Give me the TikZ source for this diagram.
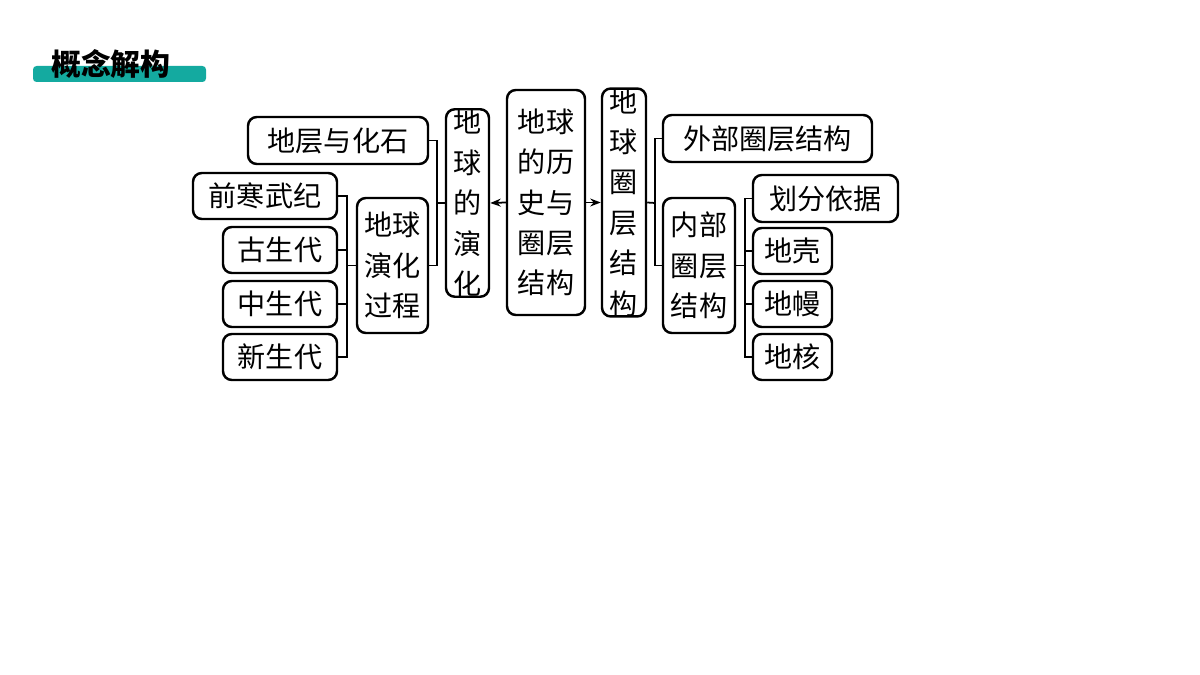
\documentclass[tikz,border=0pt]{standalone}
\usepackage{fontspec}
\setmainfont{Noto Sans CJK SC}
\usetikzlibrary{calc}
\usetikzlibrary{positioning}
\usetikzlibrary{arrows.meta}
\definecolor{teal1}{RGB}{20,170,160}
\tikzset{box/.style={draw=black,line width=1.4pt,rounded corners=5pt,inner sep=0pt,align=center,
  font=\fontsize{16}{23}\selectfont}}
\tikzset{link/.style={line width=1pt}}

\begin{document}
\begin{tikzpicture}[x=0.02cm,y=-0.02cm]
		\useasboundingbox (0,0) rectangle (1200,675);
		\fill[teal1,rounded corners=2pt] (33,66) rectangle (206,82);
		\node[font=\fontsize{17}{20}\selectfont\bfseries,anchor=west] (title) at (45,64) {概念解构};
		% centre
		\node[box,minimum width=78*0.02cm,minimum height=225*0.02cm] (root) at (546,202.5) {地球\\的历\\史与\\圈层\\结构};
		\node[box,minimum width=43*0.02cm,minimum height=174*0.02cm] (evo) at (467.5,203) {地\\球\\的\\演\\化};
		\node[box,minimum width=44*0.02cm,minimum height=211*0.02cm] (sphere) at (624,202.5) {地\\球\\圈\\层\\结\\构};
		% left side
		\node[box,minimum width=180*0.02cm,minimum height=47*0.02cm] (ceng) at (338,140.5) {地层与化石};
		\node[box,minimum width=71*0.02cm,minimum height=135*0.02cm] (proc) at (392.5,265.5) {地球\\演化\\过程};
		\node[box,minimum width=144*0.02cm,minimum height=46*0.02cm] (qian) at (265,196) {前寒武纪};
		\node[box,minimum width=114*0.02cm,minimum height=46*0.02cm] (gu) at (280,250) {古生代};
		\node[box,minimum width=114*0.02cm,minimum height=46*0.02cm] (zhong) at (280,304) {中生代};
		\node[box,minimum width=114*0.02cm,minimum height=46*0.02cm] (xin) at (280,357) {新生代};
		% right side
		\node[box,minimum width=209*0.02cm,minimum height=47*0.02cm] (outer) at (767.5,138.5) {外部圈层结构};
		\node[box,minimum width=72*0.02cm,minimum height=135*0.02cm] (inner) at (699,265.5) {内部\\圈层\\结构};
		\node[box,minimum width=145*0.02cm,minimum height=47*0.02cm] (basis) at (825.5,198.5) {划分依据};
		\node[box,minimum width=79*0.02cm,minimum height=46*0.02cm] (crust) at (792.5,251) {地壳};
		\node[box,minimum width=79*0.02cm,minimum height=46*0.02cm] (mantle) at (792.5,304) {地幔};
		\node[box,minimum width=79*0.02cm,minimum height=46*0.02cm] (core) at (792.5,357) {地核};
		% brackets
		\coordinate (jL) at (437,203);
		\coordinate (jA) at (347,265.5);
		\coordinate (jR) at (655,203);
		\coordinate (jB) at (745,265.5);
		\draw[link] (ceng.east) -| (jL) |- (proc.east);
		\draw[link] (jL) -- (evo.west);
		\draw[link] (qian.east) -| (jA) |- (xin.east);
		\draw[link] (gu.east) -- (gu.east -| jA);
		\draw[link] (zhong.east) -- (zhong.east -| jA);
		\draw[link] (jA) -- (proc.west);
		\draw[link] (outer.west) -| (jR) |- (inner.west);
		\draw[link] (sphere.east) -- (jR);
		\draw[link] (basis.west) -| (jB) |- (core.west);
		\draw[link] (crust.west) -- (crust.west -| jB);
		\draw[link] (mantle.west) -- (mantle.west -| jB);
		\draw[link] (inner.east) -- (jB);
		% arrows
		\draw[link,-{Stealth[length=6pt]}] (root.west) -- (evo.east);
		\draw[link,-{Stealth[length=6pt]}] (root.east) -- (sphere.west);
	\end{tikzpicture}
\end{document}
